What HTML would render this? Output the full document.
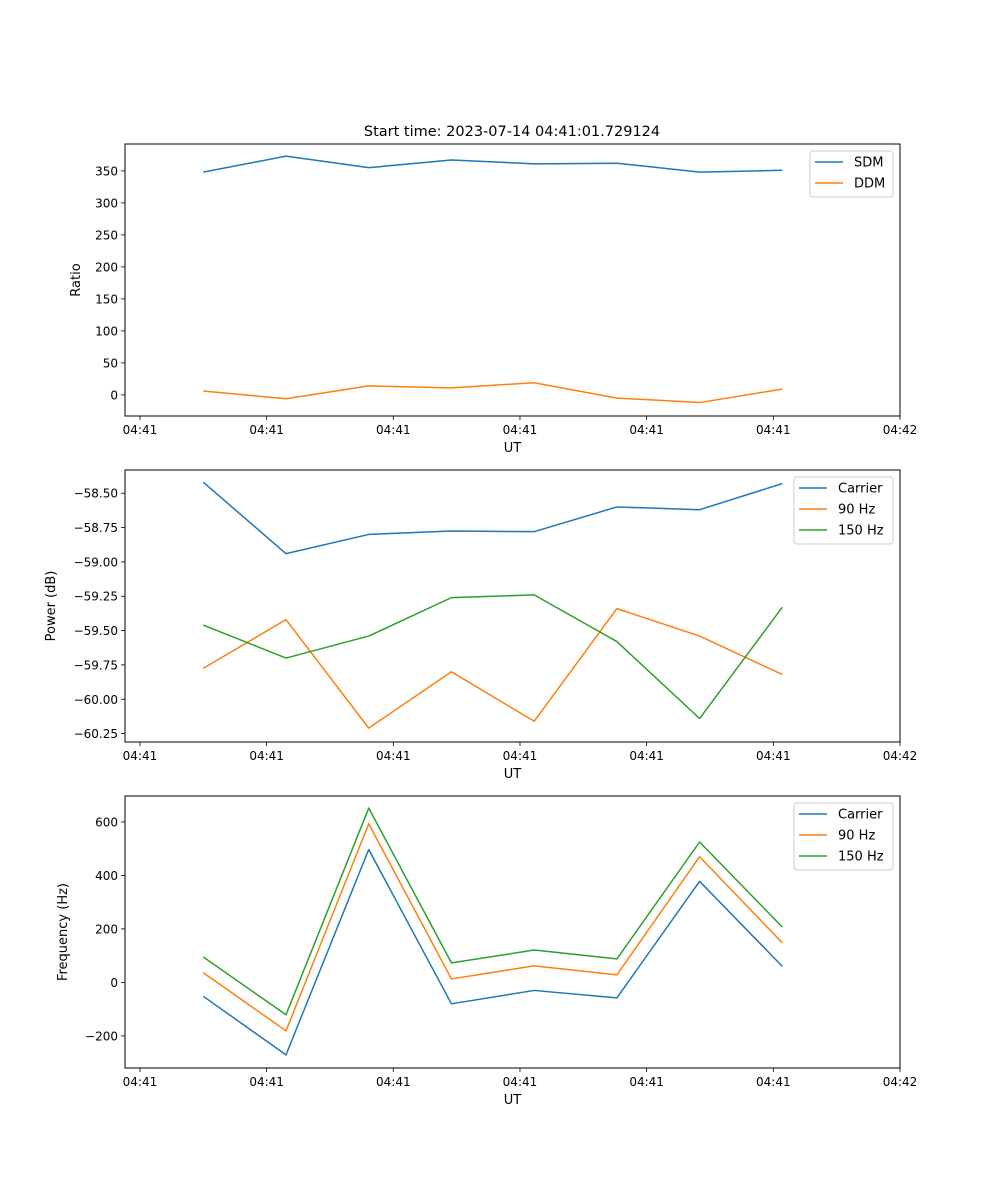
<!DOCTYPE html>
<html><head><meta charset="utf-8"><style>
html,body{margin:0;padding:0;background:#fff;}
svg{display:block;font-family:"DejaVu Sans","Liberation Sans",sans-serif;}
</style></head><body>
<svg id="fig" width="1000" height="1200" xmlns="http://www.w3.org/2000/svg">
<rect width="1000" height="1200" fill="#fff"/>
<text x="512" y="136" font-size="14.5" text-anchor="middle">Start time: 2023-07-14 04:41:01.729124</text>
</svg>
<script>
// shared time axis (in tick units)
const times = [0.5, 1.153, 1.806, 2.459, 3.112, 3.765, 4.418, 5.071];
const xTickValues = [0, 1, 2, 3, 4, 5, 6];
const xTickLabels = ["04:41","04:41","04:41","04:41","04:41","04:41","04:42"];
// panel 1
const sdm = [348, 373, 355, 367, 361, 362, 348, 351];
const ddm = [6, -6, 14, 11, 19, -5, -12, 9];
const ratioTicks = [0, 50, 100, 150, 200, 250, 300, 350];
// panel 2
const powCarrier = [-58.42, -58.94, -58.80, -58.775, -58.78, -58.60, -58.62, -58.43];
const pow90 = [-59.775, -59.42, -60.21, -59.80, -60.16, -59.34, -59.54, -59.82];
const pow150 = [-59.46, -59.70, -59.54, -59.26, -59.24, -59.58, -60.14, -59.33];
const powTicks = [-58.5, -58.75, -59.0, -59.25, -59.5, -59.75, -60.0, -60.25];
// panel 3
const freqCarrier = [-52, -271, 497, -80, -30, -58, 378, 60];
const freq90 = [36, -181, 593, 13, 62, 28, 470, 148];
const freq150 = [95, -121, 652, 73, 121, 88, 525, 207];
const freqTicks = [-200, 0, 200, 400, 600];

const NS = "http://www.w3.org/2000/svg";
const svg = document.getElementById("fig");
function mk(tag, attrs, parent) {
  const e = document.createElementNS(NS, tag);
  for (const k in attrs) e.setAttribute(k, attrs[k]);
  (parent || svg).appendChild(e);
  return e;
}
const L = 125, R = 900;
const xMin = -0.118, xMax = 6;
function xs(v) { return L + (v - xMin) / (xMax - xMin) * (R - L); }

function panel(cfg) {
  const g = mk("g", {});
  
  
  const T = cfg.top, B = cfg.top + 272;
  const ys = v => B - (v - cfg.yMin) / (cfg.yMax - cfg.yMin) * (B - T);
  cfg.series.forEach(s => {
    const pts = s.data.map((v, i) => xs(times[i]).toFixed(2) + "," + ys(v).toFixed(2)).join(" ");
    const pl = mk("polyline", {points: pts, fill: "none", stroke: s.color, "stroke-width": 1.5, "stroke-linejoin": "round"}, g);
    
    
  });
  const fr = mk("rect", {x: L, y: T, width: R - L, height: B - T, fill: "none", stroke: "#000", "stroke-width": 1}, g);
  
  
  xTickValues.forEach((v, i) => {
    const x = xs(v);
    mk("line", {x1: x, x2: x, y1: B, y2: B + 4, stroke: "#000", "stroke-width": 0.8}, g);
    const t = mk("text", {x: x, y: B + 18, "font-size": 12, "text-anchor": "middle"}, g);
    t.textContent = xTickLabels[i];
    
    
  });
  const xl = mk("text", {x: (L + R) / 2, y: B + 36, "font-size": 13, "text-anchor": "middle"}, g);
  xl.textContent = "UT";
  
  
  cfg.yTicks.forEach(v => {
    const y = ys(v);
    mk("line", {x1: L - 4, x2: L, y1: y, y2: y, stroke: "#000", "stroke-width": 0.8}, g);
    const t = mk("text", {x: L - 7, y: y + 4.5, "font-size": 12, "text-anchor": "end"}, g);
    t.textContent = cfg.fmt(v);
    
    
  });
  const yl = mk("text", {x: cfg.ylx, y: (T + B) / 2, "font-size": 13, "text-anchor": "middle", transform: "rotate(-90 " + cfg.ylx + " " + ((T + B) / 2) + ")"}, g);
  yl.textContent = cfg.ylabel;
  
  
  const lg = mk("g", {}, g);
  
  
  const lx = cfg.legX, ly = T + 7, lw = R - 7 - cfg.legX, lh = 4 + cfg.series.length * 21;
  mk("rect", {x: lx, y: ly, width: lw, height: lh, rx: 3, fill: "#fff", "fill-opacity": 0.8, stroke: "#ccc", "stroke-width": 1}, lg);
  cfg.series.forEach((s, i) => {
    const yy = ly + 11 + i * 21;
    const en = mk("g", {}, lg);
    
    
    mk("line", {x1: lx + 5, x2: lx + 33, y1: yy, y2: yy, stroke: s.color, "stroke-width": 1.5}, en);
    const t = mk("text", {x: lx + 44, y: yy + 4.5, "font-size": 13}, en);
    t.textContent = s.label;
  });
}

const neg = s => s.replace("-", "\u2212");
panel({name: "ratio-panel", top: 144, yMin: -33, yMax: 392, yTicks: ratioTicks, fmt: v => neg(String(v)), ylabel: "Ratio", ylx: 80, legX: 810,
  series: [{key: "sdm", label: "SDM", color: "#1f77b4", data: sdm}, {key: "ddm", label: "DDM", color: "#ff7f0e", data: ddm}]});
panel({name: "power-panel", top: 470, yMin: -60.311, yMax: -58.331, yTicks: powTicks, fmt: v => neg(v.toFixed(2)), ylabel: "Power (dB)", ylx: 55, legX: 794,
  series: [{key: "carrier", label: "Carrier", color: "#1f77b4", data: powCarrier}, {key: "90hz", label: "90 Hz", color: "#ff7f0e", data: pow90}, {key: "150hz", label: "150 Hz", color: "#2ca02c", data: pow150}]});
panel({name: "frequency-panel", top: 796, yMin: -320, yMax: 697, yTicks: freqTicks, fmt: v => neg(String(v)), ylabel: "Frequency (Hz)", ylx: 67, legX: 794,
  series: [{key: "carrier", label: "Carrier", color: "#1f77b4", data: freqCarrier}, {key: "90hz", label: "90 Hz", color: "#ff7f0e", data: freq90}, {key: "150hz", label: "150 Hz", color: "#2ca02c", data: freq150}]});
</script>
</body></html>
